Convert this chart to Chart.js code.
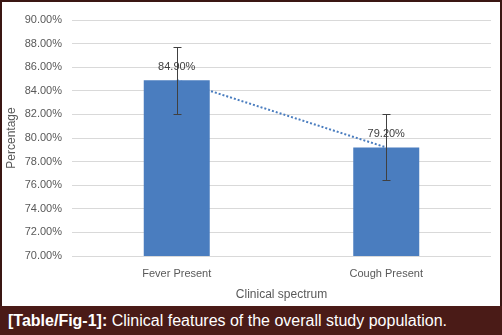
<!DOCTYPE html>
<html>
<head>
<meta charset="utf-8">
<script src="https://cdn.jsdelivr.net/npm/chart.js@4"></script>
<style>
  html,body{margin:0;padding:0;background:#fff;}
  #wrap{position:absolute;left:0;top:0;width:502px;height:306px;box-sizing:border-box;border:2px solid #3a1613;border-bottom:none;background:#fff;}
  #cap{position:absolute;left:0;top:306px;width:502px;height:29px;background:#4a1b17;color:#fff;
       font-family:'Liberation Sans',Arial,sans-serif;font-size:16px;line-height:29px;padding-left:8px;box-sizing:border-box;white-space:nowrap;}
  #cap b{font-weight:bold;}
</style>
</head>
<body>
<div id="wrap"><canvas id="c" width="498" height="304"></canvas></div>
<div id="cap"><b>[Table/Fig-1]:</b> Clinical features of the overall study population.</div>
<script>
// ── data ─────────────────────────────────────────────────────────────────────
const categories=['Fever Present','Cough Present'];
const values=[84.9,79.2];
const errors=[2.85,2.8];
const yTicks={min:70,max:90,step:2};

const BLUE='#4a7dbf', TXT='#595959', FONT="'Liberation Sans', Arial, sans-serif";

// error bars + value labels on the bar dataset
const errPlug={id:'errPlug',afterDatasetsDraw(chart){
  const cx=chart.ctx,y=chart.scales.y,meta=chart.getDatasetMeta(0);
  cx.save();
  meta.data.forEach((bar,i)=>{
    const v=values[i],e=errors[i],xc=bar.x;
    // label
    cx.fillStyle='#404040';cx.font='11px '+FONT;cx.textAlign='center';cx.textBaseline='middle';
    cx.fillText(v.toFixed(2)+'%',xc,y.getPixelForValue(v)-13);
    // error bar
    const yT=Math.round(y.getPixelForValue(v+e))+0.5,yB=Math.round(y.getPixelForValue(v-e))+0.5,xx=Math.round(xc)+0.5;
    cx.strokeStyle='#404040';cx.lineWidth=1;cx.beginPath();
    cx.moveTo(xx,yT);cx.lineTo(xx,yB);
    cx.moveTo(xx-4,yT);cx.lineTo(xx+4,yT);
    cx.moveTo(xx-4,yB);cx.lineTo(xx+4,yB);
    cx.stroke();
  });
  cx.restore();
}};

new Chart(document.getElementById('c').getContext('2d'),{
  type:'bar',
  plugins:[errPlug],
  data:{labels:categories,datasets:[
    {type:'bar',data:values,backgroundColor:BLUE,categoryPercentage:1,barPercentage:0.315,order:0},
    {type:'line',data:values,borderColor:BLUE,borderWidth:2,borderDash:[2,2],pointRadius:0,fill:false,order:1}
  ]},
  options:{responsive:false,animation:false,devicePixelRatio:1,
    layout:{padding:{left:0,right:9,top:18,bottom:4}},
    plugins:{legend:{display:false},tooltip:{enabled:false}},
    scales:{
      x:{grid:{display:false},border:{display:false},
        ticks:{color:TXT,font:{family:FONT,size:11},padding:3},
        title:{display:true,text:'Clinical spectrum',color:TXT,font:{family:FONT,size:12},padding:{top:2,bottom:0}},
        afterFit(s){s.height=46;}},
      y:{min:yTicks.min,max:yTicks.max,
        grid:{color:'#d9d9d9',drawTicks:false},border:{display:false},
        ticks:{stepSize:yTicks.step,color:TXT,font:{family:FONT,size:11},padding:10,callback:v=>v.toFixed(2)+'%'},
        title:{display:true,text:'Percentage',color:TXT,font:{family:FONT,size:12},padding:{top:2,bottom:0}},
        afterFit(s){s.width=70;}}
    }
  }
});
</script>
</body>
</html>
